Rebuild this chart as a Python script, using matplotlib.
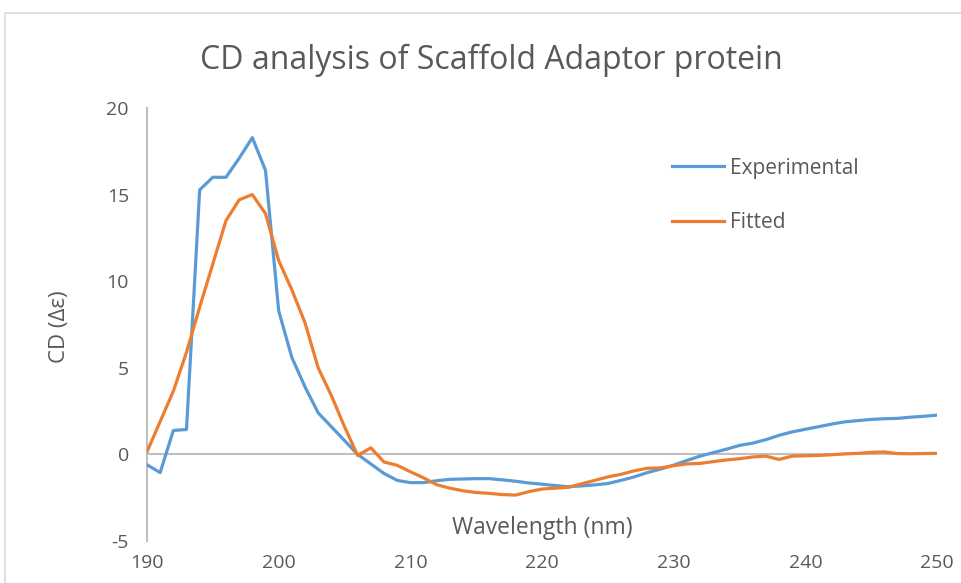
import matplotlib.pyplot as plt
import matplotlib.patches as patches
import numpy as np

# wavelength (nm) and CD values
wavelength = np.arange(190, 251)

experimental = [
    -0.6, -1.05, 1.38, 1.44, 15.27, 16.0, 16.0, 17.1, 18.29, 16.4,
    8.3, 5.6, 3.9, 2.4, 1.6, 0.8, 0.0, -0.55, -1.1, -1.5,
    -1.63, -1.63, -1.52, -1.44, -1.42, -1.4, -1.4, -1.47, -1.55, -1.65,
    -1.72, -1.8, -1.87, -1.82, -1.76, -1.68, -1.5, -1.3, -1.05, -0.85,
    -0.62, -0.35, -0.1, 0.1, 0.3, 0.52, 0.65, 0.85, 1.1, 1.3,
    1.45, 1.6, 1.75, 1.88, 1.95, 2.02, 2.06, 2.08, 2.15, 2.2,
    2.27,
]

fitted = [
    0.15, 1.9, 3.65, 5.9, 8.5, 11.0, 13.5, 14.7, 15.0, 13.9,
    11.2, 9.5, 7.6, 5.0, 3.4, 1.6, -0.06, 0.38, -0.44, -0.63,
    -1.0, -1.35, -1.75, -1.95, -2.1, -2.2, -2.25, -2.32, -2.35, -2.15,
    -2.0, -1.95, -1.9, -1.7, -1.5, -1.3, -1.15, -0.95, -0.8, -0.78,
    -0.65, -0.55, -0.52, -0.42, -0.32, -0.25, -0.15, -0.1, -0.29, -0.1,
    -0.08, -0.06, -0.02, 0.03, 0.06, 0.12, 0.14, 0.05, 0.04, 0.05,
    0.06,
]

x_ticks = [190, 200, 210, 220, 230, 240, 250]
y_ticks = [-5, 0, 5, 10, 15, 20]

grey_txt = '#595959'
grey_ax = '#bfbfbf'
plt.rcParams['font.family'] = ['Open Sans', 'DejaVu Sans']
plt.rcParams['axes.unicode_minus'] = False

fig = plt.figure(figsize=(9.62, 5.83), dpi=100)
ax = fig.add_axes([147/962, 1-541/583, (937-147)/962, (541-108)/583])

# excel chart frame
fig.patches.append(patches.Rectangle((5/962, -0.2), 1.2, 1-13/583+0.2,
                                     transform=fig.transFigure, fill=False,
                                     edgecolor='#d9d9d9', linewidth=1.2))

ax.plot(wavelength, experimental, color='#5B9BD5', lw=2.3, label='Experimental',
        solid_joinstyle='round', zorder=3)
ax.plot(wavelength, fitted, color='#ED7D31', lw=2.3, label='Fitted',
        solid_joinstyle='round', zorder=3)

ax.axhline(0, color=grey_ax, lw=1.5, zorder=1)
ax.set_xlim(190, 250)
ax.set_ylim(-5, 20)
for s in ['top', 'right', 'bottom']:
    ax.spines[s].set_visible(False)
ax.spines['left'].set_color(grey_ax)
ax.spines['left'].set_linewidth(1.5)

ax.set_xticks(x_ticks)
ax.set_yticks(y_ticks)
ax.tick_params(length=0, labelsize=14, colors=grey_txt)
ax.tick_params(axis='x', pad=9)
ax.tick_params(axis='y', pad=13)

fig.text(491/962, 1-60/583, 'CD analysis of Scaffold Adaptor protein',
         ha='center', va='center', fontsize=23, color=grey_txt)
ax.text(0.5, 0.03, 'Wavelength (nm)', transform=ax.transAxes, ha='center',
        va='center', fontsize=16.5, color=grey_txt)
fig.text(60/962, 1-327/583, 'CD (Δε)', rotation=90, ha='center', va='center',
         fontsize=16, color=grey_txt)

leg = ax.legend(loc='upper left', bbox_to_anchor=(653/962, 1-139/583),
                bbox_transform=fig.transFigure, frameon=False, fontsize=15,
                handlelength=2.5, handletextpad=0.3, labelspacing=1.6)
for t in leg.get_texts():
    t.set_color(grey_txt)

fig.savefig('out.png', dpi=100)
